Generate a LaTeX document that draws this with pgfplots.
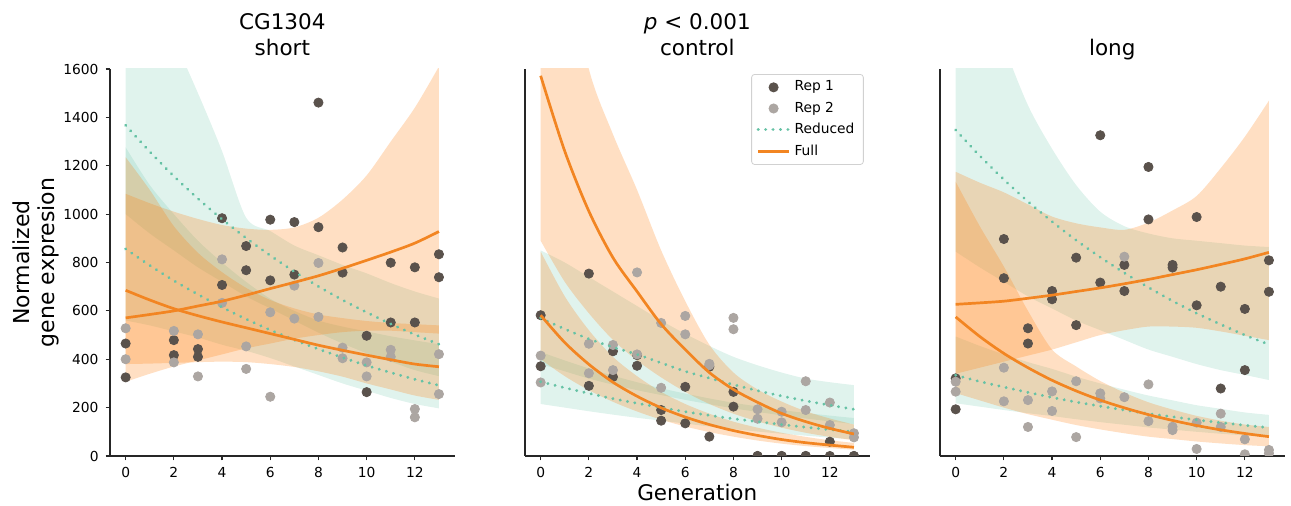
\documentclass[border=0pt]{standalone}
\usepackage{fontspec}
\setmainfont{DejaVu Sans}
\usepackage{pgfplots}
\pgfplotsset{compat=1.18}
\usepackage{pgfplotstable}
\usepgfplotslibrary{fillbetween}

\definecolor{cO}{HTML}{FF7F0E}
\definecolor{cOl}{HTML}{F28522}
\definecolor{cG}{HTML}{66C2A5}
\definecolor{cR1}{HTML}{5A524C}
\definecolor{cR2}{HTML}{ACA6A2}

% columns: x, bands (upper/lower) and fitted curves
\pgfplotstableread{
x FUu FUl FDu FDl RUu RUl RDu RDl FU FD RU RD
0 1084 307 1235 380 2100 1000 1276 560 571 685 1367 856
1 1045 340 1100 382 1900 920 1120 540 585 645 1258 788
2 1010 370 950 385 1720 850 1000 515 600 609 1157 725
3 980 395 840 388 1500 780 890 490 620 580 1064 668
4 955 420 760 390 1260 720 800 460 640 554 979 615
5 940 445 695 388 985 660 720 435 665 530 901 566
6 935 465 645 380 930 610 650 405 692 506 829 521
7 945 485 610 368 870 560 600 370 718 482 762 480
8 985 500 585 350 830 510 560 335 745 458 701 442
9 1060 512 570 328 790 465 535 300 776 437 645 407
10 1160 518 558 300 755 425 515 270 809 417 594 374
11 1300 518 550 275 715 390 495 240 843 398 546 345
12 1440 512 545 250 680 355 478 215 880 380 502 317
13 1610 506 540 232 651 330 462 197 928 369 462 292
}\bandA
\pgfplotstableread{
x FUu FUl FDu FDl RUu RUl RDu RDl FU FD RU RD
0 2800 890 845 400 850 380 430 215 1572 582 570 307
1 2100 720 660 330 800 350 395 200 1260 469 525 282
2 1600 590 520 272 740 320 362 185 1012 379 484 259
3 1330 480 410 224 680 295 332 171 820 305 450 237
4 1100 395 330 184 620 272 305 158 680 247 420 218
5 850 325 265 150 560 252 280 146 545 199 385 200
6 640 265 215 122 505 232 258 134 440 161 350 183
7 460 215 175 99 455 214 238 122 345 130 322 168
8 345 175 142 80 410 197 220 111 275 105 295 154
9 275 143 117 64 375 182 205 101 222 85 270 142
10 225 117 96 51 345 168 190 92 176 68 248 130
11 185 96 79 41 320 155 178 84 142 55 228 119
12 155 79 65 33 305 143 167 76 114 45 210 109
13 130 65 54 26 293 132 157 68 91 36 193 100
}\bandB
\pgfplotstableread{
x FUu FUl FDu FDl RUu RUl RDu RDl FU FD RU RD
0 1175 340 1134 260 2400 845 494 218 627 575 1348 334
1 1130 365 950 230 2000 780 455 204 633 494 1241 308
2 1090 390 783 200 1700 720 420 190 640 424 1143 285
3 1040 415 600 173 1450 660 388 177 652 365 1052 263
4 990 440 440 150 1270 610 360 165 665 313 969 242
5 962 470 370 128 1120 560 328 152 680 269 892 223
6 945 500 310 110 1010 520 300 140 695 231 822 206
7 935 520 262 94 950 480 274 129 712 199 757 190
8 965 535 222 80 920 440 250 118 730 171 697 175
9 1015 535 192 70 900 410 230 109 750 147 641 162
10 1075 530 166 60 890 380 210 100 770 126 590 149
11 1190 515 146 52 880 355 195 92 792 108 544 138
12 1320 497 130 45 870 335 180 85 815 93 500 127
13 1469 479 120 40 864 314 170 78 842 80 461 117
}\bandC

\pgfplotstableread{
x y
0 465
0 325
2 479
2 417
3 442
3 410
4 983
4 707
5 868
5 768
6 977
6 726
7 967
7 750
8 1461
8 946
9 862
9 758
10 497
10 264
11 799
11 552
12 780
12 552
13 834
13 739
}\repAa
\pgfplotstableread{
x y
0 528
0 400
2 517
2 387
3 503
3 329
4 813
4 633
5 453
5 360
6 594
6 245
7 568
7 704
8 798
8 575
9 448
9 404
10 387
10 329
11 439
11 410
12 194
12 160
13 421
13 256
}\repAb
\pgfplotstableread{
x y
0 582
0 371
2 754
2 290
3 433
3 327
4 417
4 373
5 190
5 146
6 286
6 135
7 369
7 80
8 265
8 204
9 0
9 0
10 0
10 0
11 0
11 0
12 59
12 0
13 0
13 0
}\repBa
\pgfplotstableread{
x y
0 415
0 304
2 464
2 342
3 459
3 355
4 759
4 420
5 550
5 282
6 579
6 503
7 381
7 375
8 571
8 524
9 193
9 154
10 183
10 139
11 309
11 190
12 221
12 128
13 94
13 77
}\repBb
\pgfplotstableread{
x y
0 321
0 193
2 897
2 735
3 528
3 465
4 682
4 648
5 820
5 541
6 1326
6 717
7 790
7 682
8 1195
8 978
9 790
9 779
10 988
10 623
11 700
11 279
12 608
12 355
13 809
13 679
}\repCa
\pgfplotstableread{
x y
0 307
0 266
2 365
2 226
3 231
3 120
4 267
4 186
5 309
5 78
6 259
6 238
7 824
7 243
8 296
8 144
9 121
9 107
10 138
10 29
11 175
11 120
12 69
12 7
13 25
13 11
}\repCb

\newcommand\drawpanel[4]{%
  \addplot[name path=#4ruu, draw=none, smooth, forget plot] table[x=x,y=RUu]{#1};
  \addplot[name path=#4rul, draw=none, smooth, forget plot] table[x=x,y=RUl]{#1};
  \addplot[fill=cG, fill opacity=0.2, draw=none, forget plot] fill between[of=#4ruu and #4rul];
  \addplot[name path=#4rdu, draw=none, smooth, forget plot] table[x=x,y=RDu]{#1};
  \addplot[name path=#4rdl, draw=none, smooth, forget plot] table[x=x,y=RDl]{#1};
  \addplot[fill=cG, fill opacity=0.2, draw=none, forget plot] fill between[of=#4rdu and #4rdl];
  \addplot[name path=#4fuu, draw=none, smooth, forget plot] table[x=x,y=FUu]{#1};
  \addplot[name path=#4ful, draw=none, smooth, forget plot] table[x=x,y=FUl]{#1};
  \addplot[fill=cO, fill opacity=0.25, draw=none, forget plot] fill between[of=#4fuu and #4ful];
  \addplot[name path=#4fdu, draw=none, smooth, forget plot] table[x=x,y=FDu]{#1};
  \addplot[name path=#4fdl, draw=none, smooth, forget plot] table[x=x,y=FDl]{#1};
  \addplot[fill=cO, fill opacity=0.25, draw=none, forget plot] fill between[of=#4fdu and #4fdl];
  \addplot[only marks, mark=*, mark size=2.3pt, color=cR1] table[x=x,y=y]{#2};
  \addplot[only marks, mark=*, mark size=2.3pt, color=cR2] table[x=x,y=y]{#3};
  \addplot[color=cG, line width=1.6pt, line cap=round, dash pattern=on 0.01pt off 3.7pt, smooth] table[x=x,y=RU]{#1};
  \addplot[color=cG, line width=1.6pt, line cap=round, dash pattern=on 0.01pt off 3.7pt, smooth, forget plot] table[x=x,y=RD]{#1};
  \addplot[color=cOl, line width=1.35pt, smooth] table[x=x,y=FU]{#1};
  \addplot[color=cOl, line width=1.35pt, smooth, forget plot] table[x=x,y=FD]{#1};
}

\pgfplotsset{
  panel/.style={
    scale only axis, width=172.3pt, height=193.5pt,
    anchor=south west,
    xmin=-0.65, xmax=13.65, ymin=0, ymax=1600,
    axis x line*=bottom, axis y line*=left,
    axis line style={-, line width=0.6pt, black!85},
    xtick={0,2,...,12},
    tick align=outside, major tick length=2.2pt,
    tick style={line width=0.6pt, black!85},
    ticklabel style={font=\fontsize{6.9}{8}\selectfont},
    /pgf/number format/assume math mode=true,
    /pgf/number format/1000 sep={},
    clip marker paths=true,
    title style={font=\fontsize{10.75}{13.3}\selectfont, align=center, at={(0.5,1)}, anchor=south, inner sep=0pt, text depth=0pt, yshift=0.3pt},
  },
}

\begin{document}
\begin{tikzpicture}
\begin{axis}[panel, at={(55pt,25pt)},
  ytick={0,200,...,1600},
  title={CG1304\\short},
  ylabel={Normalized\\gene expresion},
  ylabel style={font=\fontsize{11}{12.3}\selectfont, align=center},
  ylabel shift=-4.5pt,
]
\drawpanel{\bandA}{\repAa}{\repAb}{pa}
\end{axis}
\begin{axis}[panel, at={(262.5pt,25pt)},
  ytick=\empty,
  title={\textit{p} < 0.001\\control},
  xlabel={Generation},
  xlabel style={font=\fontsize{10.75}{13}\selectfont, at={(axis description cs:0.5,0)}, anchor=base, yshift=-22.3pt},
  legend entries={Rep 1, Rep 2, Reduced, Full},
  legend cell align=left,
  legend style={at={(0.983,0.987)}, anchor=north east, draw=black!18, rounded corners=1.5pt,
    font=\fontsize{6.9}{8}\selectfont, row sep=0pt, inner xsep=2.5pt, inner ysep=1.2pt},
  legend image code/.code={\draw[mark repeat=2,mark phase=2,#1] plot coordinates {(0cm,0cm) (0.27cm,0cm) (0.54cm,0cm)};},
]
\drawpanel{\bandB}{\repBa}{\repBb}{pb}
\end{axis}
\begin{axis}[panel, at={(470pt,25pt)},
  ytick=\empty,
  title={long},
]
\drawpanel{\bandC}{\repCa}{\repCb}{pc}
\end{axis}
\pgfresetboundingbox
\useasboundingbox (0,0) rectangle (645.5pt,253pt);
\end{tikzpicture}
\end{document}
